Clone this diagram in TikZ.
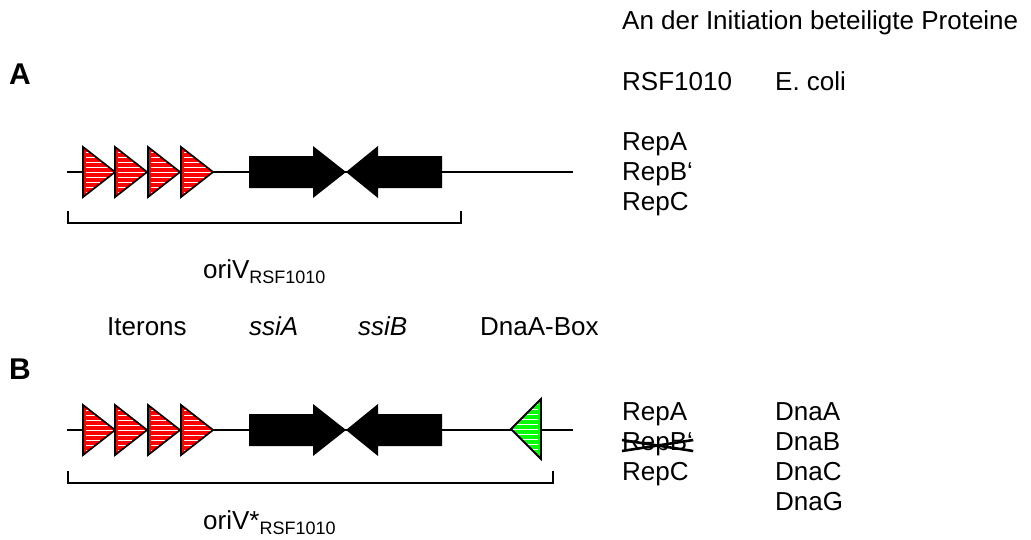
\documentclass[tikz,border=0pt]{standalone}
\usepackage{fontspec}
\setmainfont{Liberation Sans}
\usepackage{tikz}
\usetikzlibrary{calc}

\tikzset{
  lbl/.style={anchor=base west, inner sep=0pt, font=\fontsize{26}{30}\selectfont},
  panel/.style={anchor=base west, inner sep=0pt, font=\fontsize{30}{34}\selectfont\bfseries},
  dna/.style={line width=1.8pt},
  brace/.style={line width=1.8pt},
  iteron/.pic={
    \begin{scope}
      \clip (0,-25) -- (32,0) -- (0,25) -- cycle;
      \fill[red] (0,-25) rectangle (32,25);
      \foreach \h in {-20,-15,...,20}
        \draw[white, line width=1pt] (3,\h) -- (32,\h);
    \end{scope}
    \draw[line width=1.8pt, line join=miter] (0,-25) -- (32,0) -- (0,25) -- cycle;
  },
  dnaabox/.pic={
    \begin{scope}
      \clip (0,0) -- (30,-30) -- (30,30) -- cycle;
      \fill[green] (0,-30) rectangle (30,30);
      \foreach \h in {-25,-20,...,25}
        \draw[white, line width=1pt] (0,\h) -- (27,\h);
    \end{scope}
    \draw[line width=1.8pt, line join=miter] (0,0) -- (30,-30) -- (30,30) -- cycle;
  },
  ssi/.pic={
    \fill (249,-16) -- (313,-16) -- (313,-26) -- (346,0) -- (313,26) -- (313,16) -- (249,16) -- cycle;
    \fill (442,-16) -- (378,-16) -- (378,-26) -- (346,0) -- (378,26) -- (378,16) -- (442,16) -- cycle;
  },
}

\newcommand{\subtxt}[1]{\raisebox{-5pt}{\fontsize{18}{18}\selectfont #1}}

\begin{document}
\begin{tikzpicture}[x=1pt, y=-1pt]
\useasboundingbox (0,0) rectangle (1031,539);

% headings
\node[lbl] (head) at (622,29) {An der Initiation beteiligte Proteine};
\node[lbl] (rsf) at (622,90) {RSF1010};
\node[lbl] (ecoli) at (775,90) {E. coli};
\node[panel] (pa) at (9,84) {A};
\node[panel] (pb) at (9,379) {B};

% panel A
\draw[dna] (67,172) -- (573,172);
\foreach \x in {83,115,148,181}
  \pic at (\x,172) {iteron};
\pic at (0,172) {ssi};
\draw[brace] (68,211) -- (68,223) -- (461,223) -- (461,211);
\node[lbl] (oriA) at (203,278) {oriV\subtxt{RSF1010}};
\node[lbl] (repAa) at (622,150) {RepA};
\node[lbl] (repBa) at (622,180) {RepB‘};
\node[lbl] (repCa) at (622,210) {RepC};

% labels
\node[lbl] (iter) at (107,335) {Iterons};
\node[lbl] (ssiA) at (249,335) {\itshape ssiA};
\node[lbl] (ssiB) at (358,335) {\itshape ssiB};
\node[lbl] (box) at (480,335) {DnaA-Box};

% panel B
\draw[dna] (67,430) -- (573,430);
\foreach \x in {83,115,148,181}
  \pic at (\x,430) {iteron};
\pic at (0,430) {ssi};
\pic at (511,429) {dnaabox};
\draw[brace] (68,471) -- (68,483) -- (553,483) -- (553,471);
\node[lbl] (oriB) at (203,529) {oriV*\subtxt{RSF1010}};
\node[lbl] (repAb) at (622,420) {RepA};
\node[lbl] (repBb) at (622,450) {RepB‘};
\node[lbl] (repCb) at (622,480) {RepC};
\node[lbl] (dnaA) at (775,420) {DnaA};
\node[lbl] (dnaB) at (775,450) {DnaB};
\node[lbl] (dnaC) at (775,480) {DnaC};
\node[lbl] (dnaG) at (775,510) {DnaG};
\draw[line width=2.6pt] ([yshift=10pt]repBb.base west) -- ([yshift=-1pt]repBb.base east);
\draw[line width=2.6pt] ([yshift=-1pt]repBb.base west) -- ([yshift=10pt]repBb.base east);
\end{tikzpicture}
\end{document}
